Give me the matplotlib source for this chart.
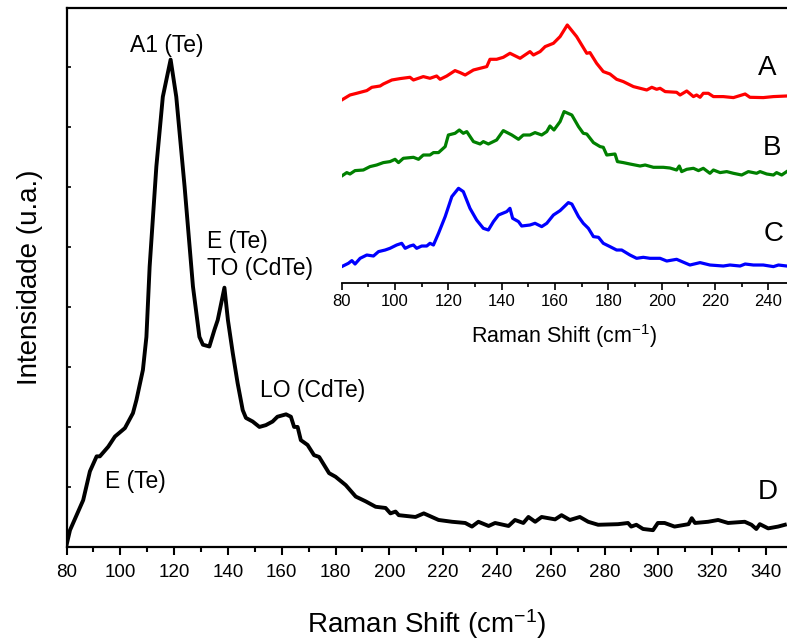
import matplotlib
matplotlib.use("Agg")
import matplotlib.pyplot as plt
from matplotlib.ticker import MultipleLocator

plt.rcParams['font.family'] = ['Liberation Sans', 'DejaVu Sans']
plt.rcParams['mathtext.default'] = 'regular'

# spectrum D (main panel)
shift_d = [80, 81.3, 86.2, 88.7, 91.2, 92.4, 95.5, 98, 101.7, 104.7, 106, 108.4, 109.7, 110.9,
           113.4, 115.8, 118.7, 120.8, 123.9, 127, 129.4, 130.7, 133.1, 135, 136.2, 138.7, 140,
           141.8, 143.6, 145.5, 146.7, 149.2, 151.7, 154.1, 156.6, 158.4, 161.6, 163.4, 164.6,
           165.9, 167.1, 169.6, 172, 173.9, 177.6, 180, 183.8, 187.5, 191.2, 194.9, 198.6, 200.4,
           202.3, 203.5, 209.7, 212.8, 218.3, 223.3, 228.2, 230.7, 233.1, 236.9, 239.3, 244.3,
           246.7, 249.8, 251.7, 254.2, 256.6, 261.6, 264, 267.1, 270.8, 273.9, 277.6, 285, 288.7,
           289.9, 291.8, 294.3, 298, 299.8, 302.3, 306, 311.2, 312.4, 313.6, 318.5, 322.2, 325.9,
           332.1, 334.6, 336.4, 337.7, 340.8, 344.5, 347]
int_d = [0.03, 0.28, 0.78, 1.26, 1.51, 1.51, 1.67, 1.84, 1.98, 2.23, 2.45, 2.95, 3.5, 4.67,
         6.34, 7.5, 8.12, 7.5, 6.0, 4.34, 3.5, 3.37, 3.34, 3.62, 3.78, 4.32, 3.78,
         3.23, 2.73, 2.28, 2.15, 2.09, 2.0, 2.03, 2.09, 2.17, 2.21, 2.17, 2.0,
         2.0, 1.78, 1.7, 1.53, 1.5, 1.23, 1.17, 1.03, 0.84, 0.76, 0.67, 0.65, 0.56,
         0.59, 0.53, 0.5, 0.56, 0.45, 0.42, 0.4, 0.34, 0.42, 0.35, 0.4, 0.35,
         0.45, 0.4, 0.5, 0.42, 0.5, 0.46, 0.53, 0.45, 0.5, 0.42, 0.37, 0.38, 0.4,
         0.34, 0.37, 0.3, 0.28, 0.4, 0.4, 0.34, 0.38, 0.48, 0.4, 0.42, 0.45, 0.4,
         0.42, 0.37, 0.3, 0.38, 0.31, 0.34, 0.37]

# spectra A, B, C (inset, stacked with offsets)
shift_a = [80, 83.1, 85.6, 89.4, 91.3, 94.4, 95.6, 98.8, 101.9, 105.6, 106.9, 110.6, 113.1,
           115.6, 116.9, 119.4, 122.5, 124.4, 126.3, 129.4, 134.4, 135.6, 138.1, 140.6, 143.1,
           146.9, 150.6, 151.9, 154.4, 156.3, 159.4, 161.9, 164.6, 168.1, 171.9, 173.1, 175.6,
           178.1, 180.6, 183.1, 185.6, 189.4, 191.9, 194.4, 196.3, 198.1, 199.4, 201.3, 205.6,
           206.9, 209.4, 211.9, 213.1, 214.4, 215.6, 217.5, 219.4, 223.1, 226.9, 231.3, 233.1,
           238.1, 241.9, 246.9]
int_a = [18.33, 18.83, 19.0, 19.27, 19.6, 19.73, 19.93, 20.33, 20.47, 20.6, 20.33, 20.67, 20.5,
         20.73, 20.4, 20.73, 21.27, 21.07, 20.83, 21.33, 21.67, 22.4, 22.4, 22.6, 23.0,
         22.5, 23.17, 22.83, 23.17, 23.67, 24.0, 24.67, 25.83, 24.67, 23.0, 23.07, 22.0,
         21.17, 20.93, 20.4, 20.17, 19.67, 19.5, 19.33, 19.6, 19.4, 19.5, 19.17, 19.1,
         18.83, 19.23, 18.67, 18.83, 18.6, 19.0, 19.0, 18.67, 18.67, 18.57, 18.93, 18.6,
         18.57, 18.67, 18.73]

shift_b = [80, 81.9, 83.1, 85.0, 88.1, 90.6, 93.1, 95.6, 98.1, 100.0, 101.3, 103.1, 106.9,
           108.8, 110.6, 113.1, 114.4, 116.3, 118.8, 120.0, 122.5, 124.1, 125.6, 126.9, 129.4,
           131.9, 133.1, 135.0, 138.1, 140.6, 143.8, 146.3, 148.1, 150.6, 152.5, 155.0, 156.9,
           158.1, 159.6, 161.9, 163.4, 166.3, 168.8, 170.6, 171.9, 174.4, 176.9, 178.1, 179.4,
           182.5, 183.4, 185.6, 188.1, 191.9, 193.8, 196.9, 200.6, 203.1, 205.6, 206.6, 207.5,
           209.4, 211.9, 213.8, 215.6, 218.1, 219.4, 221.9, 224.4, 226.9, 230.0, 232.5, 235.6,
           236.9, 239.4, 241.9, 243.1, 245.0, 246.9]
int_b = [10.73, 11.07, 10.93, 11.27, 11.33, 11.67, 11.83, 12.07, 12.17, 12.4, 12.07, 12.5, 12.6,
         12.4, 12.83, 12.83, 13.07, 13.07, 13.67, 14.83, 15.0, 15.33, 15.0, 15.17, 14.17,
         13.93, 14.17, 13.93, 14.33, 15.27, 14.83, 14.4, 14.83, 14.83, 15.07, 14.83, 15.17,
         15.73, 15.33, 16.17, 17.17, 16.83, 15.67, 15.0, 14.93, 14.07, 13.67, 13.6, 12.83,
         12.93, 12.17, 12.07, 11.93, 11.73, 11.83, 11.6, 11.6, 11.53, 11.33, 11.73, 11.17,
         11.4, 11.5, 11.27, 11.5, 11.0, 11.33, 11.07, 11.17, 11.0, 10.83, 11.17, 11.0,
         11.17, 10.93, 10.83, 11.07, 10.83, 11.17]

shift_c = [80, 82.5, 83.8, 85.0, 86.9, 89.4, 91.9, 93.8, 96.3, 98.1, 100.6, 102.5, 103.8,
           105.6, 106.9, 108.1, 110.0, 111.9, 113.1, 114.4, 116.3, 118.8, 121.3, 123.8, 125.6,
           128.1, 130.6, 133.1, 135.0, 136.9, 138.8, 141.9, 143.1, 144.1, 146.3, 147.5, 150.6,
           152.5, 155.0, 156.9, 159.4, 161.9, 165.0, 166.3, 168.8, 170.6, 172.5, 174.4, 176.3,
           178.1, 180.6, 183.1, 185.0, 188.1, 190.6, 193.1, 195.6, 199.4, 201.9, 205.6, 210.6,
           214.4, 218.1, 223.1, 225.6, 229.4, 231.3, 234.4, 238.1, 241.9, 243.8, 246.9]
int_c = [1.67, 2.0, 2.27, 1.93, 2.5, 2.83, 2.73, 3.17, 3.33, 3.5, 3.83, 4.0, 3.5,
         3.73, 3.83, 3.5, 3.73, 3.73, 4.0, 3.83, 5.0, 6.67, 8.67, 9.5, 9.17,
         7.5, 6.33, 5.5, 5.33, 6.17, 6.83, 7.17, 7.5, 6.5, 6.17, 5.73, 5.83,
         6.0, 5.67, 6.0, 6.83, 7.27, 8.07, 7.93, 6.67, 6.0, 5.5, 4.67, 4.6,
         4.0, 3.67, 3.33, 3.33, 2.83, 2.5, 2.6, 2.5, 2.5, 2.23, 2.4, 1.83,
         2.07, 1.83, 1.73, 1.83, 1.73, 1.93, 1.83, 1.83, 1.67, 1.83, 1.73]

fig = plt.figure(figsize=(7.87, 6.42), dpi=100)
ax = fig.add_axes([0.0845, 0.148, 0.9155, 0.8396])

ax.plot(shift_d, int_d, color='black', lw=2.8, solid_joinstyle='round')
ax.set_xlim(80, 347.8)
ax.set_ylim(0, 8.98)
ax.xaxis.set_major_locator(MultipleLocator(20))
ax.xaxis.set_minor_locator(MultipleLocator(10))
ax.yaxis.set_major_locator(MultipleLocator(1))
ax.tick_params(axis='x', which='major', direction='out', length=6, width=1.5, labelsize=13.5, pad=6)
ax.tick_params(axis='x', which='minor', direction='out', length=3.5, width=1.5)
ax.tick_params(axis='y', which='major', direction='in', length=3, width=1.2, labelleft=False)
for side in ['left', 'bottom', 'top']:
    ax.spines[side].set_linewidth(1.6)
ax.spines['right'].set_visible(False)
ax.set_xlabel('Raman Shift (cm$^{-1}$)', fontsize=20, labelpad=19)
ax.set_ylabel('Intensidade (u.a.)', fontsize=20, labelpad=17)

ax.text(117.4, 8.25, 'A1 (Te)', fontsize=16.5, ha='center', va='baseline')
ax.text(132.2, 4.98, 'E (Te)', fontsize=16.5, ha='left', va='baseline')
ax.text(132.2, 4.53, 'TO (CdTe)', fontsize=16.5, ha='left', va='baseline')
ax.text(151.9, 2.5, 'LO (CdTe)', fontsize=16.5, ha='left', va='baseline')
ax.text(94.3, 0.98, 'E (Te)', fontsize=16.5, ha='left', va='baseline')
ax.text(337, 0.8, 'D', fontsize=20, ha='left', va='baseline')

# inset with the three stacked spectra
ins = fig.add_axes([0.4342, 0.5587, 0.5658, 0.4206])
ins.patch.set_alpha(0)
ins.plot(shift_a, int_a, color='#ff0000', lw=2.3, solid_joinstyle='round')
ins.plot(shift_b, int_b, color='#008000', lw=2.3, solid_joinstyle='round')
ins.plot(shift_c, int_c, color='#0000ff', lw=2.3, solid_joinstyle='round')
ins.set_xlim(80, 247)
ins.set_ylim(0, 27)
ins.xaxis.set_major_locator(MultipleLocator(20))
ins.xaxis.set_minor_locator(MultipleLocator(10))
ins.tick_params(axis='x', which='major', direction='out', length=5, width=1.2, labelsize=12, pad=3)
ins.tick_params(axis='x', which='minor', direction='out', length=3, width=1.2)
ins.set_yticks([])
for side in ['left', 'right', 'top']:
    ins.spines[side].set_visible(False)
ins.spines['bottom'].set_linewidth(1.3)
ins.set_xlabel('Raman Shift (cm$^{-1}$)', fontsize=15.5, labelpad=9)

ins.text(236.1, 20.8, 'A', fontsize=20, ha='left', va='baseline')
ins.text(237.9, 12.83, 'B', fontsize=20, ha='left', va='baseline')
ins.text(238.3, 4.26, 'C', fontsize=20, ha='left', va='baseline')

fig.savefig('out.png', dpi=100)
